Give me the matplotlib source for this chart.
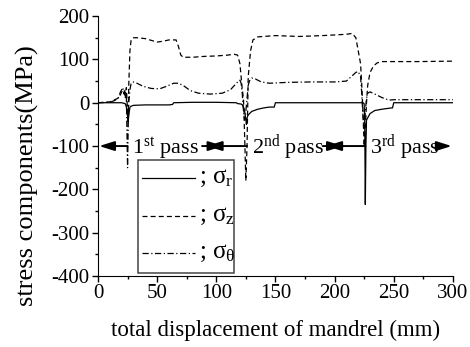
import matplotlib
matplotlib.use('Agg')
import matplotlib.pyplot as plt
from matplotlib.lines import Line2D
from matplotlib.patches import Rectangle
from matplotlib.ticker import MultipleLocator

plt.rcParams['font.family'] = 'Liberation Serif'
plt.rcParams['mathtext.fontset'] = 'custom'
plt.rcParams['mathtext.rm'] = 'Liberation Serif'
plt.rcParams['mathtext.it'] = 'Liberation Serif:italic'
plt.rcParams['axes.unicode_minus'] = False

# sigma_r (solid)
sr_x = [0, 20, 23, 24, 25, 25.5, 26, 27, 28, 30, 40, 50, 60, 63, 64, 80, 100, 117,
        118, 121, 122, 123, 124, 125, 125.5, 126, 127, 130, 135, 140, 145, 148, 149,
        150, 180, 224, 225, 225.5, 226, 226.5, 227, 228, 230, 234, 240, 248, 249,
        250, 300]
sr_y = [0, 0, -2, -10, -30, -44, -30, -10, -8, -6, -5, -5, -5, -4, 0, 1, 1, 0,
        -2, -3, -5, -10, -20, -40, -50, -35, -28, -20, -15, -12, -10, -10, -10,
        0, 0, 0, -2, -40, -235, -100, -40, -35, -25, -18, -15, -12, -12,
        0, 0]

# sigma_z (dashed)
sz_x = [0, 10, 15, 18, 20, 22, 23, 24, 25, 25.5, 26, 27, 28, 29, 30, 33, 40, 50,
        55, 60, 66, 68, 70, 72, 80, 90, 100, 110, 115, 118, 120, 121, 122, 123,
        124, 125, 126, 127, 129, 131, 135, 140, 150, 170, 190, 210, 215, 218, 220,
        222, 223, 224, 225, 226, 227, 228, 230, 233, 236, 240, 250, 270, 300]
sz_y = [0, 2, 8, 12, 25, 30, 10, 35, -20, -35, 40, 120, 145, 148, 150, 150, 148,
        140, 142, 145, 145, 130, 110, 105, 105, 107, 108, 110, 112, 110, 90, 60,
        30, 10, -80, -180, -100, 60, 120, 145, 152, 153, 155, 153, 155, 158, 160,
        150, 120, 90, 40, -20, -100, -60, 0, 40, 70, 85, 92, 95, 95, 95, 96]

# sigma_theta (dash-dot)
st_x = [0, 10, 14, 17, 19, 21, 22, 23, 24, 25, 25.5, 26, 27, 28, 30, 33, 38, 45,
        52, 58, 64, 68, 72, 78, 85, 95, 105, 112, 117, 120, 121, 122, 123, 124,
        125, 126, 127, 128, 130, 133, 138, 145, 160, 180, 200, 210, 214, 218, 220,
        222, 223, 224, 225, 226, 227, 228, 230, 234, 240, 246, 250, 270, 300]
st_y = [0, 1, 5, 10, 25, 35, 20, 30, 10, -150, -60, 0, 30, 45, 48, 45, 38, 33,
        32, 38, 45, 45, 40, 28, 22, 20, 22, 30, 45, 52, 45, 20, -20, -40,
        -20, 10, 40, 50, 57, 55, 48, 45, 47, 48, 48, 50, 60, 70, 72,
        60, 20, -30, -60, -20, 10, 22, 25, 20, 12, 6, 7, 7, 7]

series = [
    (sr_x, sr_y, '; σ$_{\\mathrm{r}}$', dict(linestyle='-')),
    (sz_x, sz_y, '; σ$_{\\mathrm{z}}$', dict(linestyle=(0, (4, 2.5)))),
    (st_x, st_y, '; σ$_{\\mathrm{θ}}$', dict(linestyle=(0, (5, 2, 1, 2)))),
]

# pass boundaries and labels
pass_lines = [25, 126, 226]
pass_labels = [r'1$^{\mathrm{st}}$ pass', r'2$^{\mathrm{nd}}$ pass', r'3$^{\mathrm{rd}}$ pass']
ARROW_Y = -100

fig = plt.figure(figsize=(4.7, 3.47), dpi=100)
ax = fig.add_axes([0.2085, 0.2046, 0.755, 0.749])

for xs, ys, lab, st in series:
    ax.plot(xs, ys, color='black', linewidth=0.9, **st)

ax.set_xlim(0, 300)
ax.set_ylim(-400, 200)
ax.xaxis.set_major_locator(MultipleLocator(50))
ax.xaxis.set_minor_locator(MultipleLocator(25))
ax.yaxis.set_major_locator(MultipleLocator(100))
ax.yaxis.set_minor_locator(MultipleLocator(50))
ax.tick_params(which='major', direction='out', length=4, width=1, labelsize=15, pad=2)
ax.tick_params(which='minor', direction='out', length=2.5, width=1)
ax.spines['top'].set_visible(False)
ax.spines['right'].set_visible(False)
ax.set_xlabel('total displacement of mandrel (mm)', fontsize=16.5, labelpad=12)
ax.set_ylabel('stress components(MPa)', fontsize=19)
ax.yaxis.set_label_coords(-0.165, 0.385)

# pass arrows
arr = dict(arrowstyle='-|>,head_length=0.7,head_width=0.22', color='black', lw=1.4,
           mutation_scale=13, shrinkA=0, shrinkB=0)
ax.annotate('', xy=(1, ARROW_Y), xytext=(pass_lines[0], ARROW_Y), arrowprops=arr)
ax.annotate('', xy=(106, ARROW_Y), xytext=(88, ARROW_Y), arrowprops=arr)
ax.annotate('', xy=(92, ARROW_Y), xytext=(pass_lines[1], ARROW_Y), arrowprops=arr)
ax.annotate('', xy=(207, ARROW_Y), xytext=(190, ARROW_Y), arrowprops=arr)
ax.annotate('', xy=(193, ARROW_Y), xytext=(pass_lines[2], ARROW_Y), arrowprops=arr)
ax.annotate('', xy=(299, ARROW_Y), xytext=(290, ARROW_Y), arrowprops=arr)

for x0, lab in zip(pass_lines, pass_labels):
    ax.text(x0 + 4, ARROW_Y - 5, lab, fontsize=16, ha='left', va='center')

# legend box
ax.add_patch(Rectangle((0.113, 0.012), 0.27, 0.435, transform=ax.transAxes,
                       facecolor='white', edgecolor='#444444', linewidth=1.1,
                       zorder=5))
for i, (xs, ys, lab, st) in enumerate(series):
    yy = 0.377 - i * 0.145
    ax.add_line(Line2D([0.124, 0.273], [yy, yy], transform=ax.transAxes,
                       color='black', linewidth=0.9, zorder=6, **st))
    ax.text(0.285, yy, lab, transform=ax.transAxes, fontsize=18,
            va='center', ha='left', zorder=6)

fig.savefig('out.png', dpi=100)
